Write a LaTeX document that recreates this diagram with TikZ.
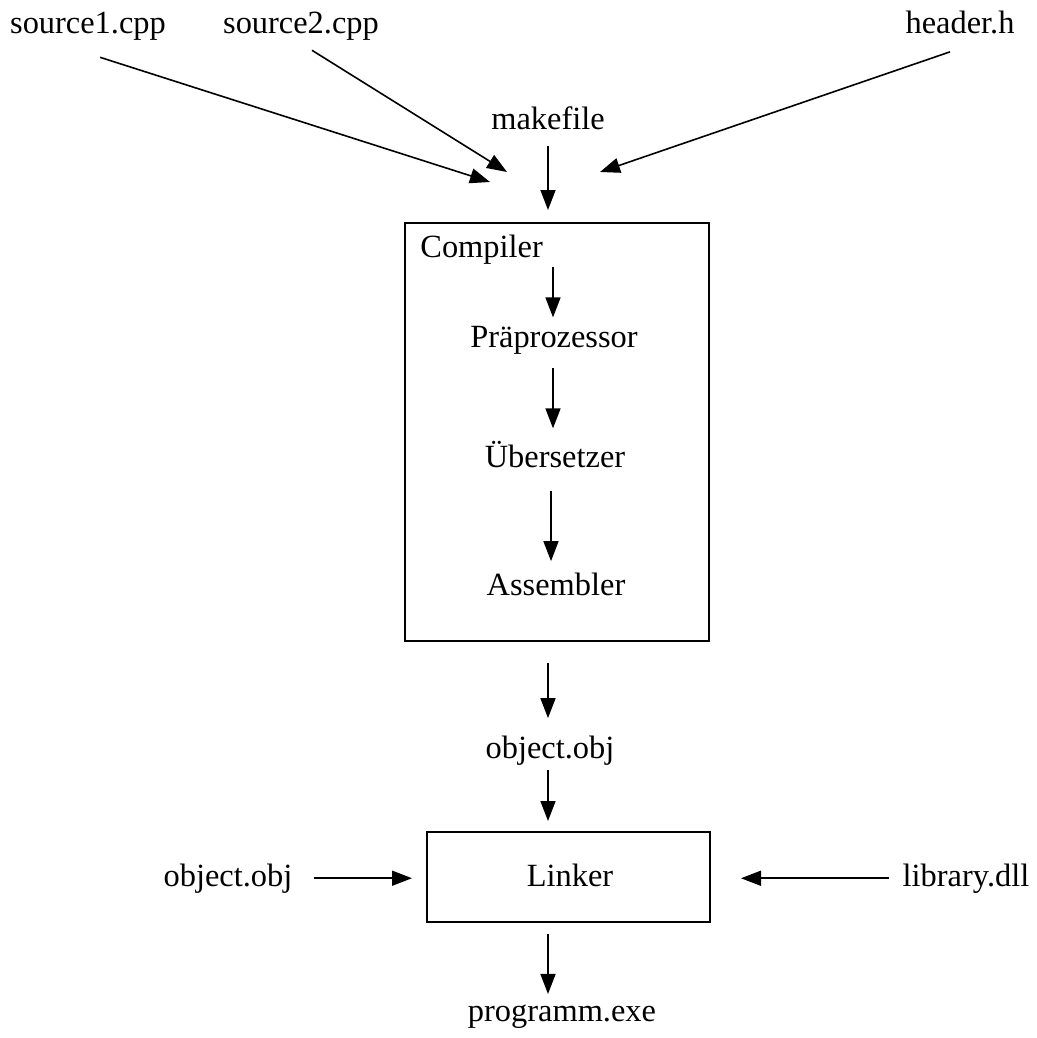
\documentclass[tikz,border=0pt]{standalone}
\usepackage{fontspec}
\setmainfont{Liberation Serif}
\usetikzlibrary{arrows.meta}
\tikzset {
    flow/.style={-{Triangle[length=10pt,width=7.5pt]}, line width=0.8pt},
    file/.style={inner sep=0pt, anchor=base, font=\fontsize{16.2}{19}\selectfont},
    block/.style={draw, line width=1pt}
}

\begin{document}
\begin{tikzpicture}[x=0.5pt, y=-0.5pt]
    \useasboundingbox (0,0) rectangle (1037,1038);

    % Eingabedateien
    \node[file] (src1) at (88,34) {source1.cpp};
    \node[file] (src2) at (301,34) {source2.cpp};
    \node[file] (hdr) at (960,34) {header.h};
    \node[file] (make) at (548,130) {makefile};
    \coordinate (in1) at (490,182);
    \coordinate (in2) at (507,172);
    \coordinate (in3) at (600,172);

    % Compiler
    \draw[block] (405,223) rectangle (709,641);
    \node[block, draw=none, minimum width=152pt, minimum height=209pt, inner sep=0pt] (comp) at (557,432) {};
    \node[file, anchor=base west] (clabel) at (420,257) {Compiler};
    \node[file] (pre) at (554,347) {Präprozessor};
    \node[file] (ueb) at (555,467) {Übersetzer};
    \node[file] (asm) at (556,595) {Assembler};

    % Linker
    \node[file] (obj) at (550,758) {object.obj};
    \node[block, minimum width=141.5pt, minimum height=45pt] (link) at (568.5,877) {};
    \node[file] at (570,886) {Linker};
    \node[file] (obj2) at (228,886) {object.obj};
    \node[file] (lib) at (966,886) {library.dll};
    \node[file] (prog) at (562,1021) {programm.exe};

    \draw[flow] ([xshift=6pt, yshift=-8pt]src1.south) -- (in1);
    \draw[flow] ([xshift=5.5pt, yshift=-4.5pt]src2.south) -- (in2);
    \draw[flow] ([xshift=-5pt, yshift=-8.5pt]hdr.south) -- (in3);
    \draw[flow, shorten <=7.5pt, shorten >=6pt] (make.south) -- (make.south |- comp.north);
    \draw[flow, shorten <=1.5pt, shorten >=4pt] ([xshift=-0.5pt]pre.north |- clabel.south) -- ([xshift=-0.5pt]pre.north);
    \draw[flow, shorten <=7pt, shorten >=6pt] ([xshift=-0.5pt]pre.south) -- ([xshift=-0.5pt]pre.south |- ueb.north);
    \draw[flow, shorten <=11.5pt, shorten >=5.5pt] ([xshift=-2pt]ueb.south) -- ([xshift=-2pt]ueb.south |- asm.north);
    \draw[flow, shorten <=10.5pt, shorten >=8.5pt] ([xshift=-1pt]obj.north |- comp.south) -- ([xshift=-1pt]obj.north);
    \draw[flow, shorten <=2.5pt, shorten >=5pt] ([xshift=-1pt]obj.south) -- ([xshift=-1pt]obj.south |- link.north);
    \draw[flow, shorten <=5.5pt, shorten >=5pt] ([xshift=-7pt]prog.north |- link.south) -- ([xshift=-7pt]prog.north);
    \draw[flow, shorten <=10.5pt, shorten >=7pt] (obj2.east) -- (obj2.east -| link.west);
    \draw[flow, shorten <=6.5pt, shorten >=15pt] (lib.west) -- (lib.west -| link.east);
\end{tikzpicture}
\end{document}
